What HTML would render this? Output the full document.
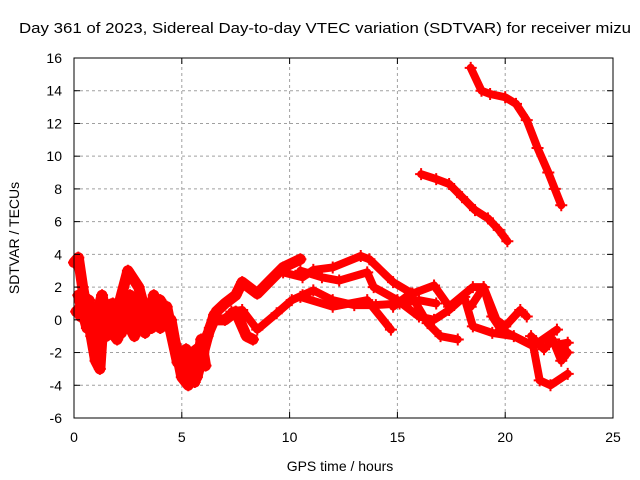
<!DOCTYPE html>
<html><head><meta charset="utf-8"><style>
body{margin:0;background:#fff}
svg{display:block;font-family:"Liberation Sans",sans-serif}
</style></head><body>
<svg id="chart" width="640" height="480" viewBox="0 0 640 480">
<rect width="640" height="480" fill="#fff"/>
<g id="grid"></g>
<g id="series"></g>
<rect x="74" y="58" width="539" height="360" fill="none" stroke="#000" stroke-width="1"/>
<g id="ticks"></g>
<text x="19" y="33" font-size="15" textLength="612" lengthAdjust="spacingAndGlyphs">Day 361 of 2023, Sidereal Day-to-day VTEC variation (SDTVAR) for receiver mizu</text>
<text x="340" y="471" font-size="14" text-anchor="middle">GPS time / hours</text>
<text transform="translate(19,238) rotate(-90)" font-size="14" text-anchor="middle">SDTVAR / TECUs</text>
</svg>
<script>
const xTicks=[0,5,10,15,20,25];
const yTicks=[-6,-4,-2,0,2,4,6,8,10,12,14,16];
const trackA=[[0,3.5],[0.2,3.8],[0.4,2],[0.6,0.5],[0.8,-1],[1,-2.5],[1.2,-3],[1.3,-1],[1.5,0],[2,-0.5],[2.5,0.5],[3,-0.5],[3.5,0],[4,0.5],[4.3,0.8],[4.5,-0.5],[4.8,-2],[5,-2.2],[5.3,-3],[5.5,-2.5],[5.7,-3.5],[6,-2],[6.3,-0.5],[6.6,0.5],[7,1],[7.5,1.5],[7.8,2.3],[8.5,1.6],[9.1,2.4],[9.7,3.2],[10.5,3.7]];
const trackB=[[0.1,0.5],[0.5,1],[0.8,0],[1,0.5],[1.5,-1],[2,0.5],[2.5,3],[3,2],[3.3,0.5],[3.5,1],[4,-0.5],[4.5,0],[4.7,-1.5],[5,-3.5],[5.3,-4],[5.5,-2],[6,-1.5],[6.5,0],[7,0],[7.5,0.5],[8,-1],[8.3,-1.2]];
const trackC=[[0.2,1.5],[0.6,-0.5],[1,0],[1.3,1.5],[1.6,-0.5],[2,-1.2],[2.4,0],[2.8,-1],[3.2,1],[3.6,-0.5],[4,1.2],[4.3,0.5],[4.6,-1],[5,-2.8],[5.4,-3.2],[5.8,-2.5],[6.2,-1],[6.5,0.3]];
const trackM=[[0.3,0.2],[0.7,1.2],[1.1,-1.5],[1.4,0.8],[1.8,1],[2.2,-0.8],[2.6,1.5],[2.9,0],[3.3,-0.8],[3.7,1.5],[4.1,0],[4.4,-0.2],[4.8,-2.6],[5.2,-1.8],[5.6,-3.8],[5.9,-1.2],[6.1,-2.8]];
const trackD=[[7.3,0.5],[7.8,0.6],[8.5,-0.6],[9.4,0.4],[10.1,1.2],[10.6,1.5],[11.1,1.8],[12,1.2],[13,0.9],[14,0.9],[15.1,1],[16,1.2],[16.8,1.0]];
const trackE=[[9.7,2.9],[10.6,2.6],[11.1,3.05],[12,3.2],[13.3,3.9],[13.7,3.7],[14.8,2.3],[15.7,1.6],[16.7,2.1],[17.4,0.8],[18.5,2.0],[19,2],[19.4,0.2],[19.8,-0.6],[21.3,-1.6],[22.4,-0.6]];
const trackF=[[10.5,3],[11.5,2.6],[12.3,2.4],[13.6,2.9],[13.9,2],[15,1.2],[16,0.2],[16.7,0],[17.4,0.6],[18.1,1.4],[18.5,-0.4],[19.4,-0.8],[20.4,-1],[21.3,-1.6],[21.6,-3.7],[22.1,-4],[22.9,-3.3]];
const trackG=[[10.5,1.4],[12,0.8],[13.6,1.2],[14.7,-0.6]];
const trackH=[[14.8,0.8],[15.6,1.6],[16.4,-0.2],[17,-1],[17.8,-1.2]];
const trackI=[[18.4,0.8],[19,2],[19.6,0],[20,-0.4],[20.7,0.6],[21,0.2]];
const trackJ=[[21.2,-1],[21.8,-1.8],[22.2,-1.2],[22.6,-2.5],[22.9,-2],[22.5,-1.5],[22.9,-1.4]];
const trackK=[[18.4,15.4],[18.9,14],[19.3,13.8],[20,13.6],[20.5,13.2],[21,12.2],[21.5,10.5],[22,9],[22.3,8],[22.6,7]];
const trackL=[[16.1,8.9],[16.8,8.6],[17.4,8.3],[18,7.5],[18.6,6.7],[19.2,6.2],[19.7,5.5],[20.1,4.8]];
const tracks=[trackA,trackB,trackC,trackM,trackD,trackE,trackF,trackG,trackH,trackI,trackJ,trackK,trackL];
const NS="http://www.w3.org/2000/svg";
const X0=74,X1=613,Y0=418,Y1=58,xmin=0,xmax=25,ymin=-6,ymax=16;
const xs=v=>X0+(v-xmin)/(xmax-xmin)*(X1-X0);
const ys=v=>Y0-(v-ymin)/(ymax-ymin)*(Y0-Y1);
const grid=document.getElementById('grid'),ticks=document.getElementById('ticks'),ser=document.getElementById('series');
function mk(t,a,p){const e=document.createElementNS(NS,t);for(const k in a)e.setAttribute(k,a[k]);p.appendChild(e);return e;}
xTicks.forEach(t=>{const x=xs(t);
 if(t>xmin&&t<xmax){const g=mk('line',{x1:x,y1:Y0,x2:x,y2:Y1,stroke:'#a0a0a0','stroke-dasharray':'3,3'},grid);
 
 }
 mk('line',{x1:x,y1:Y0,x2:x,y2:Y0-6,stroke:'#000'},ticks);
 mk('line',{x1:x,y1:Y1,x2:x,y2:Y1+6,stroke:'#000'},ticks);
 const l=mk('text',{x:x,y:442,'font-size':14,'text-anchor':'middle'},ticks);l.textContent=t;
 
 });
yTicks.forEach(t=>{const y=ys(t);
 if(t>ymin&&t<ymax){const g=mk('line',{x1:X0,y1:y,x2:X1,y2:y,stroke:'#a0a0a0','stroke-dasharray':'3,3'},grid);
 
 }
 mk('line',{x1:X0,y1:y,x2:X0+6,y2:y,stroke:'#000'},ticks);
 mk('line',{x1:X1,y1:y,x2:X1-6,y2:y,stroke:'#000'},ticks);
 const l=mk('text',{x:62,y:y+5,'font-size':14,'text-anchor':'end'},ticks);l.textContent=t;
 
 });
tracks.forEach((tr,i)=>{
 const pts=tr.map(p=>xs(p[0])+','+ys(p[1])).join(' ');
 const pl=mk('polyline',{points:pts,fill:'none',stroke:'#ff0000','stroke-width':(i<4?11:8),'stroke-linejoin':'round','stroke-linecap':'round'},ser);
 
 
 tr.forEach(p=>{const x=xs(p[0]),y=ys(p[1]);
  const m=mk('path',{d:`M${x-6},${y}h12M${x},${y-6}v12`,stroke:'#ff0000','stroke-width':2},ser);
  
  });
});
</script>
</body></html>
